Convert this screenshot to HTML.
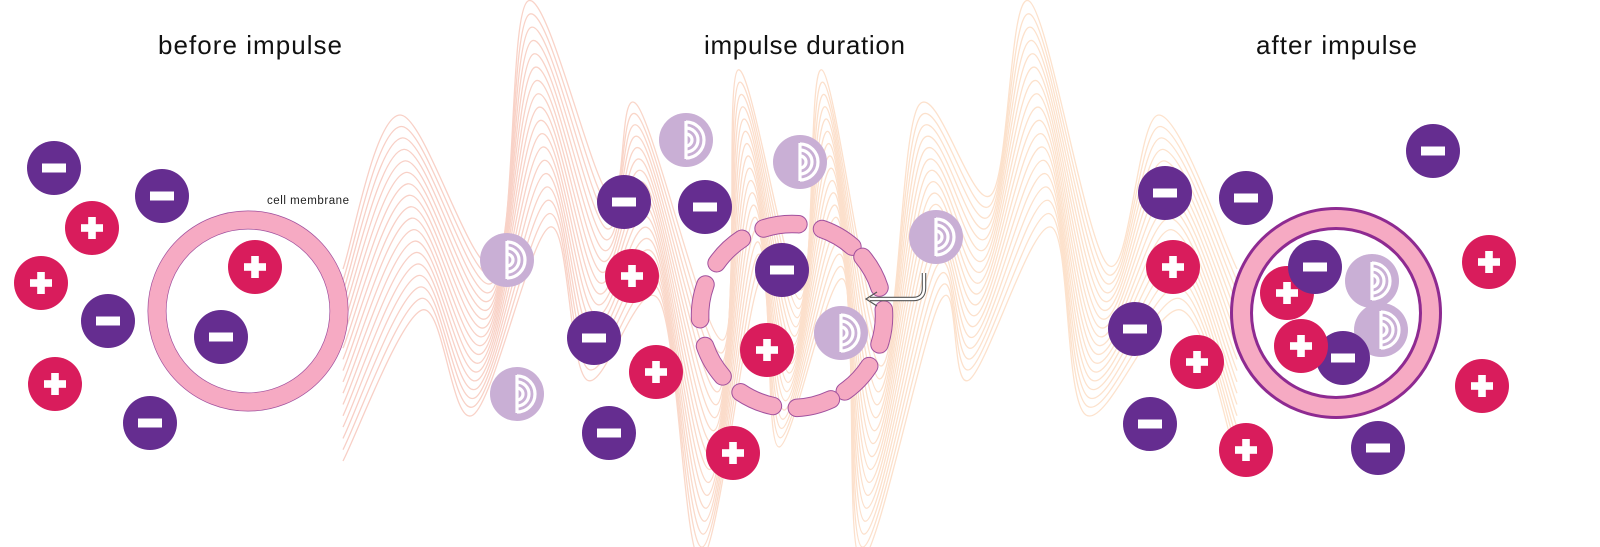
<!DOCTYPE html>
<html><head><meta charset="utf-8">
<style>
html,body{margin:0;padding:0;background:#fff;}
body{width:1600px;height:547px;overflow:hidden;}
svg{display:block;overflow:hidden;}
</style></head>
<body>
<svg id="s" width="1600" height="547" viewBox="0 0 1600 547" xmlns="http://www.w3.org/2000/svg">
<defs>
<linearGradient id="wg" gradientUnits="userSpaceOnUse" x1="340" y1="0" x2="1240" y2="0">
<stop offset="0" stop-color="#f8cfc6"/>
<stop offset="0.3" stop-color="#f9d4c8"/>
<stop offset="0.5" stop-color="#fce0cc"/>
<stop offset="1" stop-color="#fde3cd"/>
</linearGradient>
<g id="mn"><circle r="27" fill="#652d90"/><rect x="-12" y="-4.5" width="24" height="9" fill="#fff"/></g>
<g id="pl"><circle r="27" fill="#d91c5c"/><rect x="-11" y="-3.8" width="22" height="7.6" fill="#fff"/><rect x="-3.8" y="-11" width="7.6" height="22" fill="#fff"/></g>
<g id="lp"><circle r="27" fill="#c9afd5"/>
<g fill="none" stroke="#fff" stroke-width="3.2">
<path d="M0,-6 A6,6 0 0 1 0,6"/>
<path d="M0,-12 A12,12 0 0 1 0,12"/>
<path d="M0,-18 A18,18 0 0 1 0,18"/>
</g>
<rect x="-1.6" y="-19" width="3.2" height="38" fill="#fff"/>
</g>
</defs>
<g id="waves" fill="none" stroke="url(#wg)" stroke-width="1.3"></g>

<g font-family="Liberation Sans, Helvetica, Arial, sans-serif" fill="#111" font-size="26">
<text x="158" y="54" textLength="184">before impulse</text>
<text x="704" y="54" textLength="201">impulse duration</text>
<text x="1256" y="54" textLength="161">after impulse</text>
</g>

<!-- left cell -->
<circle cx="248" cy="311" r="91" fill="none" stroke="#a0509e" stroke-width="19"/>
<circle cx="248" cy="311" r="91" fill="none" stroke="#f6aac3" stroke-width="17.6"/>
<text x="267" y="204" font-family="Liberation Sans, sans-serif" font-size="11.5" fill="#222" textLength="82">cell membrane</text>

<use href="#mn" x="54" y="168"/>
<use href="#mn" x="162" y="196"/>
<use href="#pl" x="92" y="228"/>
<use href="#pl" x="41" y="283"/>
<use href="#mn" x="108" y="321"/>
<use href="#pl" x="55" y="384"/>
<use href="#mn" x="150" y="423"/>
<use href="#pl" x="255" y="267"/>
<use href="#mn" x="221" y="337"/>

<use href="#lp" x="507" y="260"/>
<use href="#lp" x="517" y="394"/>

<!-- middle -->
<g id="dashes" fill="none" stroke-linecap="round"></g>
<use href="#lp" x="686" y="140"/>
<use href="#lp" x="800" y="162"/>
<use href="#lp" x="936" y="237"/>
<use href="#lp" x="841" y="333"/>
<use href="#mn" x="624" y="202"/>
<use href="#mn" x="705" y="207"/>
<use href="#mn" x="782" y="270"/>
<use href="#mn" x="594" y="338"/>
<use href="#mn" x="609" y="433"/>
<use href="#pl" x="632" y="276"/>
<use href="#pl" x="656" y="372"/>
<use href="#pl" x="767" y="350"/>
<use href="#pl" x="733" y="453"/>

<g fill="none" stroke-linejoin="miter">
<path d="M924,273 V288 Q924,299 913,299 H870" stroke="#555" stroke-width="4.5"/>
<path d="M924,273 V288 Q924,299 913,299 H870" stroke="#fff" stroke-width="2.3"/>
<path d="M877,292 L866,299 L877,306" stroke="#555" stroke-width="1.2"/>
</g>

<!-- right -->
<circle cx="1336" cy="313" r="94.5" fill="none" stroke="#8e2a91" stroke-width="23"/>
<circle cx="1336" cy="313" r="94.5" fill="none" stroke="#f6aac3" stroke-width="17"/>
<use href="#mn" x="1165" y="193"/>
<use href="#mn" x="1246" y="198"/>
<use href="#mn" x="1433" y="151"/>
<use href="#mn" x="1135" y="329"/>
<use href="#mn" x="1150" y="424"/>
<use href="#mn" x="1378" y="448"/>
<use href="#pl" x="1173" y="267"/>
<use href="#pl" x="1197" y="362"/>
<use href="#pl" x="1246" y="450"/>
<use href="#pl" x="1489" y="262"/>
<use href="#pl" x="1482" y="386"/>
<use href="#lp" x="1372" y="281"/>
<use href="#lp" x="1381" y="330"/>
<use href="#pl" x="1287" y="293"/>
<use href="#mn" x="1315" y="267"/>
<use href="#mn" x="1343" y="358"/>
<use href="#pl" x="1301" y="346"/>
</svg>
<script>
(function(){
var NS="http://www.w3.org/2000/svg";
var X=[343,411,484,539,598,648,712,749,790,833,872,930,980,1040,1097,1170,1237];
var T=[269,115,265,1,195,105,340,70,290,70,340,105,195,1,265,115,269];
var B=[461,310,415,227,380,300,560,280,447,280,560,300,380,227,415,310,461];
var g=document.getElementById('waves');
var N=18;
for(var k=0;k<N;k++){
 var t=k/(N-1);
 var P=[];
 for(var i=0;i<X.length;i++){
  var sh=(i==0||i==X.length-1)?0:(t-0.5)*22*((i%2)?1:-1);
  P.push([X[i]+sh,T[i]+(B[i]-T[i])*t]);
 }
 var d="M"+P[0][0]+","+P[0][1].toFixed(1);
 for(var i=0;i<P.length-1;i++){
  var p0=P[Math.max(0,i-1)],p1=P[i],p2=P[i+1],p3=P[Math.min(P.length-1,i+2)];
  var c1=[p1[0]+(p2[0]-p0[0])/6,p1[1]+(p2[1]-p0[1])/6];
  var c2=[p2[0]-(p3[0]-p1[0])/6,p2[1]-(p3[1]-p1[1])/6];
  d+=" C"+c1[0].toFixed(1)+","+c1[1].toFixed(1)+" "+c2[0].toFixed(1)+","+c2[1].toFixed(1)+" "+p2[0].toFixed(1)+","+p2[1].toFixed(1);
 }
 var p=document.createElementNS(NS,"path");p.setAttribute("d",d);g.appendChild(p);
}
var dg=document.getElementById('dashes');
var cx=792,cy=316,r=92;
var A=[-97,-60,-29,7,44,76,113,150,189,226];
function arc(a){var a1=(a-11)*Math.PI/180,a2=(a+11)*Math.PI/180;
 return "M"+(cx+r*Math.cos(a1)).toFixed(1)+","+(cy+r*Math.sin(a1)).toFixed(1)+" A"+r+","+r+" 0 0 1 "+(cx+r*Math.cos(a2)).toFixed(1)+","+(cy+r*Math.sin(a2)).toFixed(1);}
A.forEach(function(a){
 var p=document.createElementNS(NS,"path");p.setAttribute("d",arc(a));p.setAttribute("stroke","#a0509e");p.setAttribute("stroke-width","18.5");dg.appendChild(p);
 var q=document.createElementNS(NS,"path");q.setAttribute("d",arc(a));q.setAttribute("stroke","#f5a9c2");q.setAttribute("stroke-width","16.5");dg.appendChild(q);
});
})();
</script>
</body></html>
